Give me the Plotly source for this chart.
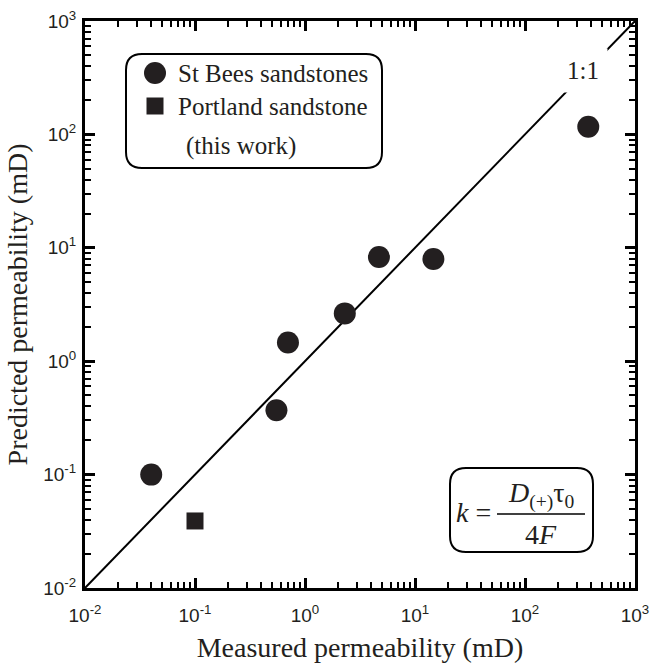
import plotly.graph_objects as go

# Permeability: measured vs. predicted (mD)
st_bees_measured = [0.04, 0.55, 0.70, 2.3, 4.7, 14.7, 376]
st_bees_predicted = [0.10, 0.37, 1.46, 2.64, 8.3, 7.96, 117]
portland_measured = [0.10]
portland_predicted = [0.039]

one_to_one = [0.01, 1000]

major_vals = [0.01, 0.1, 1, 10, 100, 1000]
major_text = ["10<sup>-2</sup>", "10<sup>-1</sup>", "10<sup>0</sup>",
              "10<sup>1</sup>", "10<sup>2</sup>", "10<sup>3</sup>"]
minor_vals = [k * v for v in major_vals[:-1] for k in range(2, 10)]

INK = "#231f20"
SERIF = "Liberation Serif, Times New Roman, serif"
SANS = "Liberation Sans, Arial, sans-serif"

W, H = 652, 666
ML, MR, MT, MB = 85, 17, 21, 78
PW, PH = W - ML - MR, H - MT - MB


def px(x):
    return (x - ML) / PW


def py(y):
    return (H - MB - y) / PH


def rounded_box(x0, y0, x1, y1, r):
    a, b, c, d = px(x0), py(y1), px(x1), py(y0)
    rx, ry = r / PW, r / PH
    return (f"M {a+rx},{b} L {c-rx},{b} Q {c},{b} {c},{b+ry} "
            f"L {c},{d-ry} Q {c},{d} {c-rx},{d} L {a+rx},{d} "
            f"Q {a},{d} {a},{d-ry} L {a},{b+ry} Q {a},{b} {a+rx},{b} Z")


fig = go.Figure()

fig.add_trace(go.Scatter(x=one_to_one, y=one_to_one, mode="lines",
                         line=dict(color="black", width=2), showlegend=False,
                         hoverinfo="skip"))
fig.add_trace(go.Scatter(x=st_bees_measured, y=st_bees_predicted, mode="markers",
                         name="St Bees sandstones",
                         marker=dict(symbol="circle", size=22, color=INK),
                         showlegend=False))
fig.add_trace(go.Scatter(x=portland_measured, y=portland_predicted, mode="markers",
                         name="Portland sandstone (this work)",
                         marker=dict(symbol="square", size=17, color=INK),
                         showlegend=False))

axis_common = dict(
    type="log", range=[-2, 3], tickvals=major_vals, ticktext=major_text,
    ticks="inside", ticklen=10, tickwidth=3, tickcolor="black",
    showline=True, linewidth=3, linecolor="black", mirror="allticks",
    showgrid=False, zeroline=False, automargin=False,
    tickfont=dict(family=SANS, size=19, color=INK),
    minor=dict(tickvals=minor_vals, ticks="inside", ticklen=6, tickwidth=2,
               tickcolor="black", showgrid=False),
)

fig.update_xaxes(**axis_common, ticklabelstandoff=8,
                 title=dict(text="Measured permeability (mD)",
                            font=dict(family=SERIF, size=28, color=INK), standoff=13))
fig.update_yaxes(**axis_common, ticklabelstandoff=2,
                 title=dict(text="Predicted permeability (mD)",
                            font=dict(family=SERIF, size=28, color=INK), standoff=8))

shapes = [
    # legend frame
    dict(type="path", xref="paper", yref="paper", path=rounded_box(126, 54, 382, 168, 16),
         line=dict(color="black", width=2), fillcolor="white", layer="above"),
    # legend symbols
    dict(type="circle", xref="paper", yref="paper", xsizemode="pixel", ysizemode="pixel",
         xanchor=px(155), yanchor=py(73), x0=-11, x1=11, y0=-11, y1=11,
         fillcolor=INK, line=dict(width=0)),
    dict(type="rect", xref="paper", yref="paper", xsizemode="pixel", ysizemode="pixel",
         xanchor=px(155), yanchor=py(106), x0=-8.5, x1=8.5, y0=-8.5, y1=8.5,
         fillcolor=INK, line=dict(width=0)),
    # formula frame
    dict(type="path", xref="paper", yref="paper", path=rounded_box(450, 468, 593, 552, 16),
         line=dict(color="black", width=2), fillcolor="white", layer="above"),
    # fraction bar
    dict(type="line", xref="paper", yref="paper", x0=px(497), x1=px(585),
         y0=py(514), y1=py(514), line=dict(color="black", width=1.5)),
]

serif_font = dict(family=SERIF, size=25, color=INK)
formula_font = dict(family=SERIF, size=28, color=INK)


def note(text, x, y, xanchor="left", font=serif_font, **kw):
    return dict(text=text, xref="paper", yref="paper", x=px(x), y=py(y),
                xanchor=xanchor, yanchor="middle", showarrow=False, font=font, **kw)


annotations = [
    note("St Bees sandstones", 176, 73),
    note("Portland sandstone", 176, 106),
    note("(this work)", 184, 146),
    note("1:1", 583, 70, xanchor="center", bgcolor="white", borderpad=8),
    note("<i>k</i> =", 493, 512, xanchor="right", font=formula_font),
    note("<i>D</i><sub>(+)</sub>τ<sub>0</sub>", 541, 495, xanchor="center", font=formula_font),
    note("4<i>F</i>", 541, 534, xanchor="center", font=formula_font),
]

fig.update_layout(
    width=W, height=H,
    margin=dict(l=ML, r=MR, t=MT, b=MB),
    plot_bgcolor="white", paper_bgcolor="white",
    shapes=shapes, annotations=annotations,
    showlegend=False,
)

fig.write_html("out.html")
